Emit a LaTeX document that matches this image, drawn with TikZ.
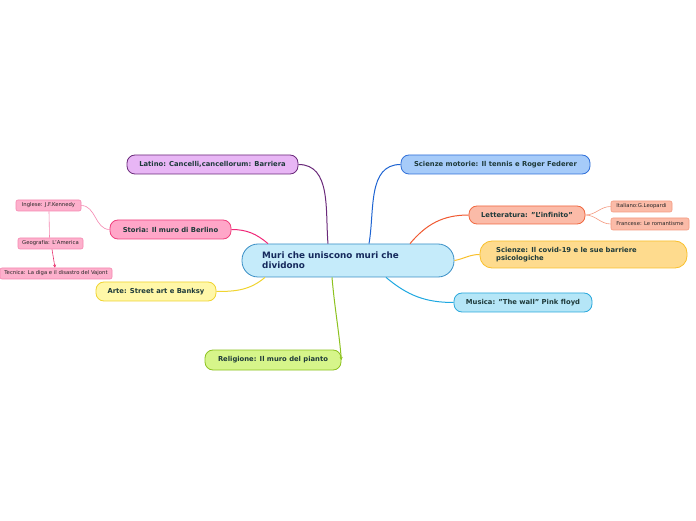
\documentclass[tikz,border=0pt]{standalone}
\usepackage{fontspec}
\setmainfont[Ligatures=NoCommon]{DejaVu Sans}
\usetikzlibrary{calc,arrows.meta}
\definecolor{txt}{HTML}{1E3A3A}
\definecolor{navy}{HTML}{15295C}
\newcommand{\dq}{\char"22\relax}
\newcommand{\sq}{\char"27\relax}
\tikzset{
  topic/.style={draw, rounded corners=8pt, line width=0.8pt, font=\fontsize{6.8}{8}\selectfont\bfseries, text=txt, inner sep=0pt},
  sub/.style={draw, rounded corners=2pt, line width=0.6pt, font=\fontsize{5.3}{6}\selectfont, text=black!85, inner sep=0pt},
  conn/.style={line width=1pt},
  thin/.style={line width=0.6pt}
}
\begin{document}
\begin{tikzpicture}[x=1pt,y=1pt]
\useasboundingbox (0,0) rectangle (696,520);
\fill[white] (0,0) rectangle (696,520);
% central
\node[draw={rgb,255:red,58;green,143;blue,198}, fill={rgb,255:red,197;green,235;blue,250}, rounded corners=16pt, line width=0.8pt, minimum width=212pt, minimum height=33pt, inner sep=0pt] (c) at (348,259.5) {};
\node[anchor=west, font=\fontsize{8.8}{10}\selectfont\bfseries, text=navy, align=left, inner sep=0pt] (ct) at (262,259.5) {Muri che uniscono muri che\\dividono};
% main topics
\node[topic, draw={rgb,255:red,106;green,42;blue,122}, fill={rgb,255:red,232;green,182;blue,245}, minimum width=171pt, minimum height=19pt] (lat) at (212.5,355.5) {Latino: Cancelli,cancellorum: Barriera};
\node[topic, draw={rgb,255:red,47;green,111;blue,217}, fill={rgb,255:red,166;green,203;blue,249}, minimum width=189pt, minimum height=19pt] (mot) at (495.5,355.5) {Scienze motorie: Il tennis e Roger Federer};
\node[topic, draw={rgb,255:red,240;green,104;blue,64}, fill={rgb,255:red,251;green,187;blue,168}, minimum width=116pt, minimum height=18pt] (let) at (527,305) {Letteratura: \dq L\sq infinito\dq};
\node[sub, draw={rgb,255:red,245;green,154;blue,128}, fill={rgb,255:red,251;green,187;blue,168}, minimum width=61pt, minimum height=11pt] (ita) at (641.5,313.5) {Italiano:G.Leopardi};
\node[sub, draw={rgb,255:red,245;green,154;blue,128}, fill={rgb,255:red,251;green,187;blue,168}, minimum width=78pt, minimum height=12pt] (fra) at (650,296) {Francese: Le romantisme};
\node[topic, draw={rgb,255:red,249;green,192;blue,44}, fill={rgb,255:red,254;green,219;blue,142}, rounded corners=12pt, minimum width=207pt, minimum height=27pt] (cov) at (583.5,265.5) {};
\node[anchor=west, font=\fontsize{6.8}{8}\selectfont\bfseries, text=txt, align=left, inner sep=0pt] (covt) at (496,265.5) {Scienze: Il covid-19 e le sue barriere\\psicologiche};
\node[topic, draw={rgb,255:red,42;green,168;blue,220}, fill={rgb,255:red,181;green,230;blue,247}, minimum width=138pt, minimum height=19pt] (mus) at (523,217.5) {Musica: \dq The wall\dq{} Pink floyd};
\node[topic, draw={rgb,255:red,141;green,194;blue,31}, fill={rgb,255:red,214;green,245;blue,138}, minimum width=136pt, minimum height=20pt] (rel) at (273,160) {Religione: Il muro del pianto};
\node[topic, draw={rgb,255:red,240;green,212;blue,48}, fill={rgb,255:red,255;green,247;blue,168}, minimum width=120pt, minimum height=19pt] (art) at (156,228.5) {Arte: Street art e Banksy};
\node[topic, draw={rgb,255:red,240;green,64;blue,126}, fill={rgb,255:red,255;green,166;blue,200}, minimum width=121pt, minimum height=19pt] (sto) at (170.5,290.5) {Storia: Il muro di Berlino};
\node[sub, draw={rgb,255:red,245;green,135;blue,176}, fill={rgb,255:red,253;green,176;blue,204}, minimum width=65pt, minimum height=11pt] (ing) at (48.5,314.5) {Inglese: J.F.Kennedy};
\node[sub, draw={rgb,255:red,245;green,135;blue,176}, fill={rgb,255:red,253;green,176;blue,204}, minimum width=65pt, minimum height=11pt] (geo) at (50.5,276.5) {Geografia: L\sq America};
\node[sub, draw={rgb,255:red,245;green,135;blue,176}, fill={rgb,255:red,253;green,176;blue,204}, minimum width=112pt, minimum height=11pt] (tec) at (56,246.5) {Tecnica: La diga e il disastro del Vajont};
% connectors
\draw[conn, draw={rgb,255:red,106;green,42;blue,122}] (lat.east) to[out=0,in=95] ([xshift=-20pt]c.north);
\draw[conn, draw={rgb,255:red,30;green,100;blue,210}] ([xshift=21pt]c.north) to[out=80,in=180] (mot.west);
\draw[conn, draw={rgb,255:red,240;green,90;blue,50}] ([xshift=62pt]c.north) to[out=50,in=180] (let.west);
\draw[conn, draw={rgb,255:red,249;green,192;blue,44}] (c.east) to[out=10,in=180] (cov.west);
\draw[conn, draw={rgb,255:red,30;green,168;blue,225}] ([xshift=38pt]c.south) to[out=-40,in=180] (mus.west);
\draw[conn, draw={rgb,255:red,141;green,194;blue,31}, -{Stealth[length=3pt,width=3pt]}] ([xshift=-16pt]c.south) to[out=-85,in=95] (rel.east);
\draw[conn, draw={rgb,255:red,240;green,212;blue,48}] ([xshift=-83pt]c.south) to[out=-140,in=0] (art.east);
\draw[conn, draw={rgb,255:red,240;green,40;blue,120}] ([xshift=-80pt]c.north) to[out=140,in=0] (sto.east);
\draw[thin, draw={rgb,255:red,245;green,154;blue,128}] (let.east) to[out=0,in=180] (ita.west);
\draw[thin, draw={rgb,255:red,245;green,154;blue,128}] (let.east) to[out=0,in=180] (fra.west);
\draw[thin, draw={rgb,255:red,245;green,135;blue,176}] (sto.west) to[out=180,in=0] (ing.east);
\draw[thin, draw={rgb,255:red,245;green,135;blue,176}] ([xshift=0.5pt]ing.south) -- ([xshift=-1pt]geo.north);
\draw[thin, draw={rgb,255:red,232;green,48;blue,110}, -{Stealth[length=3pt,width=3pt]}] ([xshift=1.5pt]geo.south) -- ([xshift=-1pt]tec.north);
\end{tikzpicture}
\end{document}
